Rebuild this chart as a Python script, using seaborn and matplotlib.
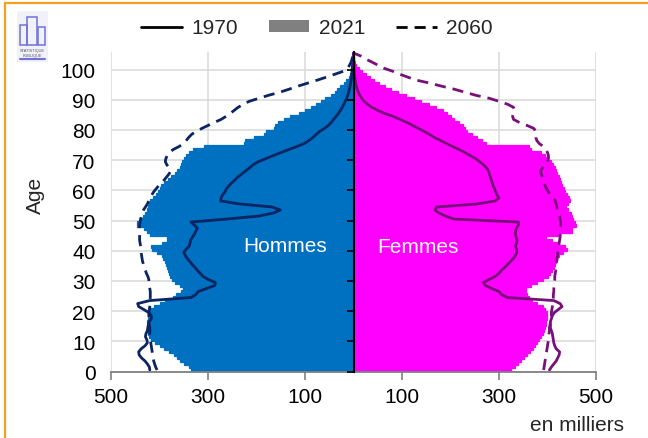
import numpy as np
import pandas as pd
import matplotlib
matplotlib.use("Agg")
import matplotlib.pyplot as plt
import seaborn as sns
from matplotlib.lines import Line2D
from matplotlib.patches import Patch, Rectangle

# ---------------- data (thousands) ----------------
ages = list(range(106))

men_2021 = [
    336, 340, 350, 357, 363, 370, 380, 390, 398, 410,
    418, 422, 424, 425, 425, 424, 425, 424, 423, 422,
    420, 412, 400, 388, 372, 366, 356, 352, 358, 368,
    374, 378, 381, 383, 385, 387, 389, 393, 395, 405,
    415, 418, 395, 385, 384, 420, 425, 432, 447, 447,
    440, 434, 429, 425, 423, 421, 419, 414, 408, 404,
    400, 396, 390, 383, 376, 368, 364, 358, 355, 353,
    350, 346, 340, 330, 308, 226, 223, 205, 185, 181,
    163, 161, 155, 144, 130, 112, 99, 88, 78, 68,
    58, 47, 38, 33, 27, 20, 15, 10, 7, 5,
    3, 2, 1, 0.6, 0.3, 0.2]

women_2021 = [
    325, 332, 340, 346, 352, 358, 364, 370, 374, 378,
    382, 386, 390, 392, 394, 396, 397, 398, 399, 398,
    395, 390, 378, 368, 362, 358, 356, 355, 365, 378,
    390, 400, 406, 410, 413, 415, 418, 420, 423, 432,
    440, 437, 423, 410, 396, 425, 450, 451, 458, 456,
    452, 450, 448, 442, 438, 443, 447, 444, 440, 436,
    433, 430, 428, 426, 423, 420, 417, 415, 412, 408,
    400, 395, 386, 365, 361, 274, 264, 254, 244, 234,
    230, 226, 218, 207, 200, 192, 184, 170, 155, 140,
    125, 108, 92, 78, 64, 52, 42, 34, 26, 18,
    12, 6, 3, 2, 1, 0.5]

men_1970 = [
    420, 421, 425, 430, 437, 442, 443, 438, 430, 425,
    426, 429, 428, 425, 424, 423, 421, 417, 417, 422,
    432, 443, 445, 420, 335, 325, 320, 303, 286, 285,
    300, 310, 316, 322, 327, 333, 338, 343, 347, 350,
    345, 339, 337, 336, 332, 328, 325, 322, 328, 335,
    262, 195, 165, 151, 168, 235, 274, 273, 270, 265,
    262, 257, 251, 244, 238, 230, 222, 214, 207, 196,
    181, 166, 150, 134, 117, 102, 92, 84, 77, 70,
    60, 52, 46, 41, 36, 31, 27, 23, 20, 17,
    14, 12, 10, 8.5, 7, 6, 5, 4, 3.5, 3,
    2.5, 2, 1.5, 1, 0.5, 0]

women_1970 = [
    404, 408, 413, 418, 421, 424, 425, 418, 415, 413,
    412, 411, 410, 408, 406, 406, 406, 408, 410, 414,
    422, 430, 426, 413, 318, 305, 300, 285, 272, 268,
    280, 292, 300, 305, 312, 318, 324, 330, 334, 337,
    336, 334, 336, 337, 335, 334, 334, 336, 340, 340,
    207, 190, 176, 168, 172, 255, 292, 300, 296, 293,
    291, 288, 286, 284, 282, 280, 278, 274, 268, 260,
    252, 241, 230, 218, 205, 192, 180, 167, 157, 146,
    134, 122, 110, 96, 82, 64, 50, 38, 29, 22,
    17, 13, 10, 7.5, 6, 4.5, 3.5, 2.7, 2, 1.5,
    1, 0.7, 0.5, 0.3, 0.2, 0]

men_2060 = [
    405, 408, 410, 412, 413, 414, 415, 416, 417, 418,
    419, 420, 420, 420, 420, 421, 421, 421, 422, 422,
    421, 420, 419, 419, 419, 419, 419, 420, 421, 422,
    422, 424, 427, 429, 431, 433, 435, 436, 437, 438,
    439, 439, 440, 441, 441, 441, 441, 441, 441, 440,
    439, 437, 436, 433, 429, 425, 422, 420, 416, 412,
    407, 402, 396, 390, 385, 380, 377, 380, 385, 388,
    387, 384, 380, 372, 360, 350, 345, 340, 334, 325,
    313, 300, 287, 273, 263, 254, 246, 238, 227, 215,
    195, 175, 152, 133, 115, 95, 75, 56, 38, 20,
    12, 8, 5, 3, 1.5, 0]

women_2060 = [
    392, 393, 394, 395, 396, 397, 398, 399, 400, 401,
    402, 402, 403, 404, 404, 405, 406, 407, 408, 408,
    409, 410, 410, 411, 412, 412, 413, 413, 414, 414,
    415, 415, 416, 417, 418, 418, 419, 420, 421, 421,
    422, 423, 424, 425, 426, 426, 427, 427, 427, 427,
    426, 425, 423, 420, 419, 418, 416, 412, 406, 402,
    398, 395, 393, 391, 389, 387, 386, 390, 396, 400,
    402, 402, 400, 397, 392, 383, 378, 376, 376, 376,
    372, 358, 342, 330, 328, 330, 332, 330, 318, 300,
    280, 252, 230, 208, 182, 158, 130, 112, 95, 80,
    62, 50, 38, 25, 15, 0]

x_ticks = [-500, -300, -100, 100, 300, 500]
x_tick_labels = ["500", "300", "100", "100", "300", "500"]
y_ticks = list(range(0, 101, 10))
legend_labels = ["1970", "2021", "2060"]

# ---------------- style ----------------
sns.set_theme(style="white")
plt.rcParams['font.family'] = ['Liberation Sans', 'DejaVu Sans']

BLUE = "#0070C0"
PINK = "#FF00FF"
NAVY = "#0B2462"
PURPLE = "#78107A"
GRID = "#D9D9D9"
DASH = (0, (4, 2.5))

W, H = 648, 439
fig = plt.figure(figsize=(W / 100, H / 100), dpi=100)
ax = fig.add_axes([111 / W, 1 - 372.5 / H, 485 / W, 320 / H])

ypos = np.array(ages) + 0.5
df = pd.DataFrame({
    "y": ypos,
    "h21": -np.array(men_2021, dtype=float),
    "f21": np.array(women_2021, dtype=float),
    "h70": -np.array(men_1970, dtype=float),
    "f70": np.array(women_1970, dtype=float),
    "h60": -np.array(men_2060, dtype=float),
    "f60": np.array(women_2060, dtype=float),
})

for col, color in [("h21", BLUE), ("f21", PINK)]:
    sns.barplot(data=df, x=col, y="y", orient="y", native_scale=True,
                width=1, color=color, saturation=1, edgecolor=color,
                linewidth=0.9, errorbar=None, ax=ax)

sns.lineplot(data=df, x="h70", y="y", orient="y", estimator=None,
             color=NAVY, linewidth=2, ax=ax, legend=False)
sns.lineplot(data=df, x="f70", y="y", orient="y", estimator=None,
             color=PURPLE, linewidth=2, ax=ax, legend=False)
sns.lineplot(data=df, x="h60", y="y", orient="y", estimator=None,
             color=NAVY, linewidth=2, linestyle=DASH, ax=ax, legend=False)
sns.lineplot(data=df, x="f60", y="y", orient="y", estimator=None,
             color=PURPLE, linewidth=2, linestyle=DASH, ax=ax, legend=False)

ax.set_xlim(-500, 500)
ax.set_ylim(0, 106)
ax.set_xticks(x_ticks, x_tick_labels)
ax.set_yticks(y_ticks, [str(v) for v in y_ticks])
ax.set_xlabel("")
ax.set_ylabel("")
ax.set_axisbelow(True)
ax.grid(True, color=GRID, linewidth=1.1)
for s in ["left", "right", "top"]:
    ax.spines[s].set_visible(False)
ax.spines["bottom"].set_color("#808080")
ax.spines["bottom"].set_linewidth(1.3)
ax.tick_params(axis="x", bottom=True, direction="out", length=6, width=1.2,
               color="#808080", labelsize=15, pad=5, labelcolor="black")
ax.tick_params(axis="y", left=False, length=0, pad=11, labelsize=15,
               labelcolor="black")

# central category axis with ticks pointing left
sec = ax.secondary_yaxis(0.5)
sec.set_yticks(y_ticks)
sec.set_yticklabels([])
sec.tick_params(axis="y", direction="in", length=5, width=1.2, color="black")
for s in sec.spines.values():
    s.set_color("black")
    s.set_linewidth(1.5)
sec.set_zorder(5)

ax.text(-142, 41.7, "Hommes", color="white", fontsize=15, ha="center", va="center")
ax.text(132, 41.3, "Femmes", color="white", fontsize=15, ha="center", va="center")

fig.text(35 / W, 1 - 195 / H, "Age", rotation=90, fontsize=15,
         ha="center", va="center")
fig.text(624 / W, 1 - 431 / H, "en milliers", fontsize=15, ha="right",
         va="baseline")

handles = [Line2D([], [], color="black", lw=2),
           Patch(facecolor="#808080", edgecolor="none"),
           Line2D([], [], color="black", lw=2, linestyle=DASH)]
fig.legend(handles, legend_labels, loc="center", bbox_to_anchor=(317 / W, 1 - 29 / H),
           ncol=3, frameon=False, fontsize=15, handlelength=1.95, handleheight=0.5,
           handletextpad=0.45, columnspacing=1.5, borderaxespad=0, borderpad=0)

# orange frame (top and left)
ORANGE = "#F5A01E"
fig.add_artist(Line2D([5 / W, 1], [1 - 4 / H, 1 - 4 / H], color=ORANGE, lw=1.6,
                      transform=fig.transFigure))
fig.add_artist(Line2D([5 / W, 5 / W], [0, 1 - 4 / H], color=ORANGE, lw=1.6,
                      transform=fig.transFigure))

# small "Statistique publique" logo
def P(x, y):
    return (x / W, 1 - y / H)

fig.add_artist(Rectangle(P(17, 63), 31 / W, 51 / H, facecolor="#F1F1F8",
                         edgecolor="none", transform=fig.transFigure))
LOGO = "#7070E0"
for (x0, y0, x1, y1) in [(20, 26, 27, 46), (27, 18, 37, 46), (38, 28, 45, 46)]:
    fig.add_artist(Rectangle(P(x0, y1), (x1 - x0) / W, (y1 - y0) / H, facecolor="none",
                             edgecolor=LOGO, lw=1.1, transform=fig.transFigure))
fig.text(*P(32.5, 51), "STATISTIQUE", fontsize=2.8, color="#555566",
         ha="center", va="center")
fig.text(*P(32.5, 56), "PUBLIQUE", fontsize=2.8, color="#555566",
         ha="center", va="center")
fig.add_artist(Line2D([20 / W, 45 / W], [1 - 60 / H, 1 - 60 / H], color=LOGO, lw=1.5,
                      transform=fig.transFigure))

fig.savefig("out.png", dpi=100)
